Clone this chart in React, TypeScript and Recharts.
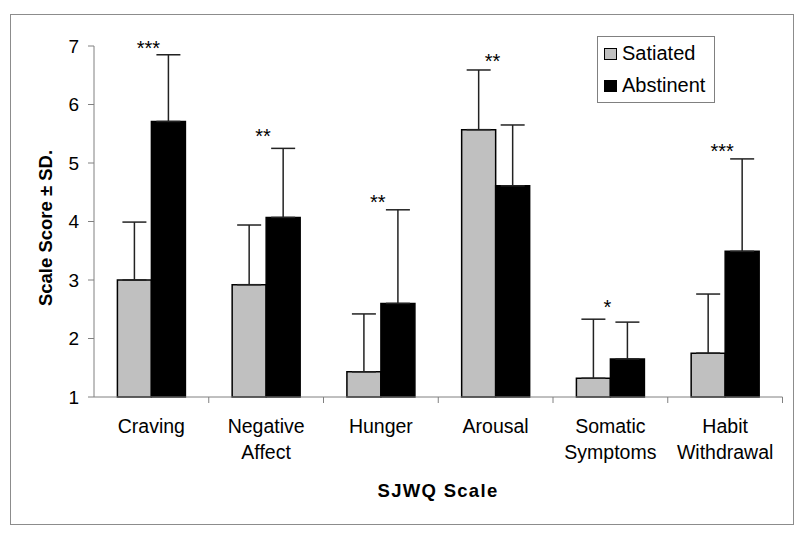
import React from "react";
import { BarChart, Bar, XAxis, YAxis, ErrorBar, Legend, ReferenceDot } from "recharts";

const categories = ["Craving", "Negative Affect", "Hunger", "Arousal", "Somatic Symptoms", "Habit Withdrawal"];
const seriesNames = ["Satiated", "Abstinent"];
const satiated = [3.0, 2.92, 1.43, 5.57, 1.32, 1.75];
const satiatedSD = [0.99, 1.02, 0.99, 1.02, 1.01, 1.01];
const abstinent = [5.71, 4.07, 2.6, 4.61, 1.65, 3.49];
const abstinentSD = [1.14, 1.18, 1.6, 1.04, 0.63, 1.58];
const significance = ["***", "**", "**", "**", "*", "***"];
const sigHeight = [6.96, 5.46, 4.33, 6.74, 2.54, 5.2];
const yTicks = [1, 2, 3, 4, 5, 6, 7];

const FONT = "'Liberation Sans', Arial, sans-serif";
const PLOT_LEFT = 94;
const PLOT_RIGHT = 782.5;
const HALF_BAND = (PLOT_RIGHT - PLOT_LEFT) / categories.length / 2;

const data = categories.map((name, i) => ({
  name,
  satiated: satiated[i],
  abstinent: abstinent[i],
  satErr: [0, satiatedSD[i]],
  absErr: [0, abstinentSD[i]],
}));

function CategoryTick(props: any) {
  const { x, y, payload } = props;
  const lines = String(payload.value).split(" ");
  return (
    <g>
      <line x1={x + HALF_BAND} x2={x + HALF_BAND} y1={y} y2={y + 6} stroke="#808080" />
      <text x={x} y={y + 36} textAnchor="middle" fontFamily={FONT} fontSize={19.5} fill="#000">
        {lines.map((l, i) => (
          <tspan key={i} x={x} dy={i === 0 ? 0 : 25.7}>
            {l}
          </tspan>
        ))}
      </text>
    </g>
  );
}

function LegendBox(props: any) {
  // keep the series order (recharts sorts legend items by name)
  const items = [...(props.payload || [])].sort(
    (a: any, b: any) => seriesNames.indexOf(a.value) - seriesNames.indexOf(b.value)
  );
  return (
    <svg width={118} height={68} style={{ display: "block" }}>
      <rect x={0.5} y={0.5} width={117} height={66} fill="#fff" stroke="#808080" />
      {items.map((entry: any, i: number) => (
        <g key={entry.value}>
          <rect x={7.5} y={12.5 + i * 32} width={12} height={11} fill={entry.color} stroke="#000" />
          <text x={25} y={23.5 + i * 32} fontFamily={FONT} fontSize={20} fill="#000">
            {entry.value}
          </text>
        </g>
      ))}
    </svg>
  );
}

export default function App() {
  return (
    <div style={{ position: "absolute", left: 0, top: 0, width: 800, height: 536, background: "#fff" }}>
      <div
        style={{
          position: "absolute",
          left: 10,
          top: 14,
          width: 784,
          height: 511,
          boxSizing: "border-box",
          border: "1px solid #8c8c8c",
        }}
      />
      <BarChart
        width={800}
        height={536}
        data={data}
        margin={{ top: 46, right: 800 - PLOT_RIGHT, bottom: 79, left: 0 }}
        barCategoryGap="20.4%"
        barGap={0}
        style={{ position: "absolute", left: 0, top: 0 }}
      >
        <XAxis
          dataKey="name"
          height={60}
          axisLine={{ stroke: "#808080" }}
          tickLine={false}
          tickSize={0}
          tickMargin={0}
          tick={<CategoryTick />}
          interval={0}
          label={() => (
            <text x={438} y={496.7} textAnchor="middle" fontFamily={FONT} fontSize={18.5} fontWeight="bold" letterSpacing={1.3} fill="#000">
              SJWQ Scale
            </text>
          )}
        />
        <YAxis
          width={PLOT_LEFT}
          domain={[1, 7]}
          ticks={yTicks}
          type="number"
          axisLine={{ stroke: "#808080" }}
          tickLine={{ stroke: "#808080" }}
          tickSize={6}
          tickMargin={9}
          tick={{ fill: "#000", fontSize: 19, fontFamily: FONT }}
          label={() => (
            <text
              x={45}
              y={228}
              transform="rotate(-90 45 228)"
              textAnchor="middle"
              dominantBaseline="central"
              fontFamily={FONT}
              fontSize={18.5}
              fontWeight="bold"
              fill="#000"
            >
              Scale Score ± SD.
            </text>
          )}
        />
        <Legend
          layout="vertical"
          align="center"
          verticalAlign="middle"
          content={<LegendBox />}
          wrapperStyle={{ left: 597, top: 36, width: 118, height: 68 }}
        />
        <Bar dataKey="satiated" name={seriesNames[0]} fill="#c0c0c0" stroke="#000" strokeWidth={1.5} isAnimationActive={false}>
          <ErrorBar dataKey="satErr" direction="y" width={12} stroke="#222" strokeWidth={1.5} isAnimationActive={false} />
        </Bar>
        <Bar dataKey="abstinent" name={seriesNames[1]} fill="#000" stroke="#000" strokeWidth={1.5} isAnimationActive={false}>
          <ErrorBar dataKey="absErr" direction="y" width={12} stroke="#222" strokeWidth={1.5} isAnimationActive={false} />
        </Bar>
        {categories.map((c, i) => (
          <ReferenceDot
            key={c}
            x={c}
            y={sigHeight[i]}
            r={0}
            fill="none"
            stroke="none"
            ifOverflow="visible"
            label={{ value: significance[i], position: "center", fontSize: 20, fill: "#000", fontFamily: FONT, dx: -3 }}
          />
        ))}
      </BarChart>
    </div>
  );
}
